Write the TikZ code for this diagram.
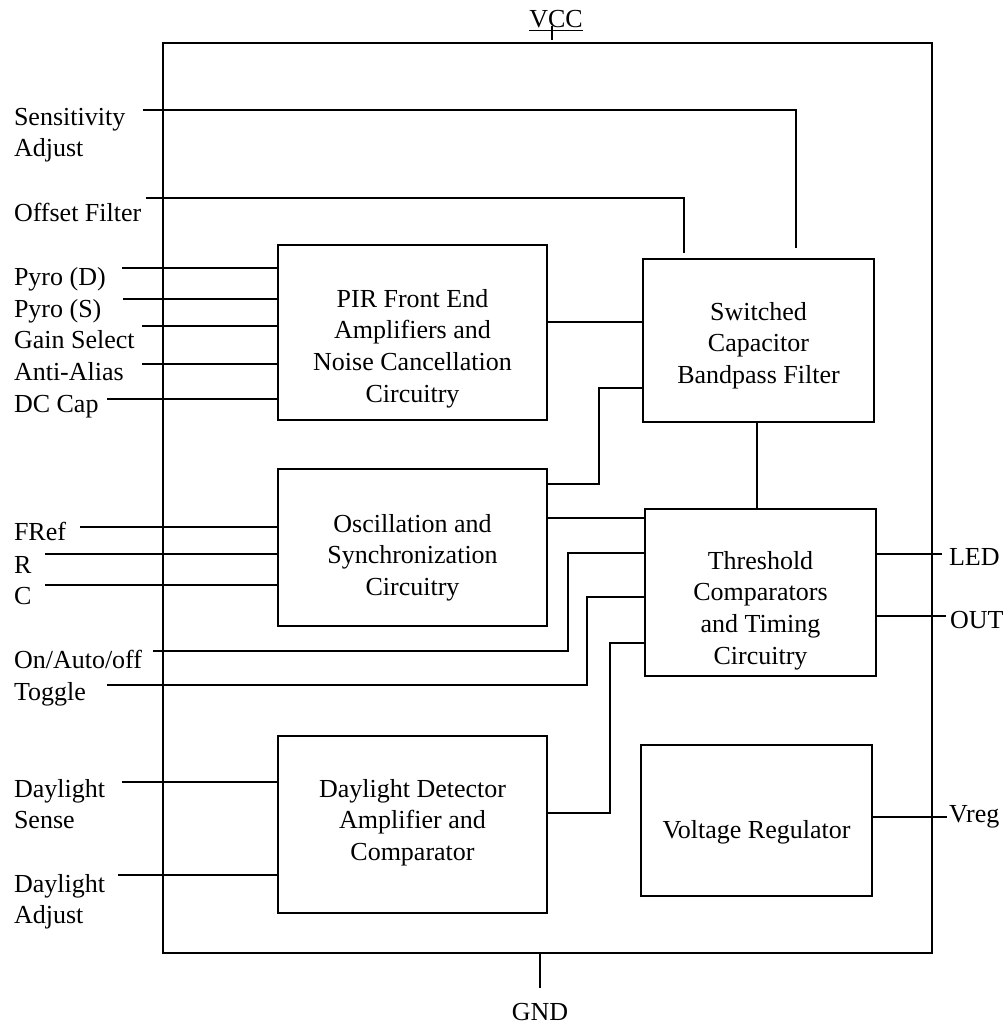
\documentclass[tikz,border=0pt]{standalone}
\usepackage{fontspec}
\setmainfont{Liberation Serif}
\newcommand{\ml}[2]{\begin{tabular}[t]{@{}#1@{}}#2\end{tabular}}
\begin{document}
\begin{tikzpicture}[x=1pt,y=-1pt,
  every node/.style={inner sep=0pt, outer sep=0pt, font=\fontsize{26}{31.7}\selectfont},
  blk/.style={draw, line width=1.4pt},
  wire/.style={line width=1.4pt},
  lbl/.style={anchor=base west},
  ctext/.style={anchor=base}]
\useasboundingbox (0,0) rectangle (1006,1025);

% outer chip
\node[blk, minimum width=769pt, minimum height=910pt] (chip) at (547.5,498) {};

% blocks
\node[blk, minimum width=269pt, minimum height=175pt] (pir) at (412.5,332.5) {};
\node[blk, minimum width=269pt, minimum height=157pt] (osc) at (412.5,547.5) {};
\node[blk, minimum width=269pt, minimum height=177pt] (day) at (412.5,824.5) {};
\node[blk, minimum width=231pt, minimum height=163pt] (scf) at (758.5,340.5) {};
\node[blk, minimum width=231pt, minimum height=167pt] (thr) at (760.5,592.5) {};
\node[blk, minimum width=231pt, minimum height=151pt] (vreg) at (756.5,820.5) {};

% block texts
\node[ctext] (pirT) at (412.5,307) {\ml{c}{PIR Front End\\Amplifiers and\\Noise Cancellation\\Circuitry}};
\node[ctext] (oscT) at (412.5,532) {\ml{c}{Oscillation and\\Synchronization\\Circuitry}};
\node[ctext] (dayT) at (412.5,797) {\ml{c}{Daylight Detector\\Amplifier and\\Comparator}};
\node[ctext] (scfT) at (758.5,320) {\ml{c}{Switched\\Capacitor\\Bandpass Filter}};
\node[ctext] (thrT) at (760.5,569) {\ml{c}{Threshold\\Comparators\\and Timing\\Circuitry}};
\node[ctext] (vregT) at (756.5,838) {Voltage Regulator};

% left labels
\node[lbl] (sens) at (14,125) {\ml{l}{Sensitivity\\Adjust}};
\node[lbl] (offs) at (14,221) {Offset Filter};
\node[lbl] (pyd) at (14,285) {Pyro (D)};
\node[lbl] (pys) at (14,317) {Pyro (S)};
\node[lbl] (gain) at (14,348) {Gain Select};
\node[lbl] (anti) at (14,380) {Anti-Alias};
\node[lbl] (dcc) at (14,412) {DC Cap};
\node[lbl] (fref) at (14,540) {FRef};
\node[lbl] (rr) at (14,573) {R};
\node[lbl] (cc) at (14,604) {C};
\node[lbl] (onl) at (14,668) {On/Auto/off};
\node[lbl] (tgl) at (14,700) {Toggle};
\node[lbl] (dsen) at (14,797) {\ml{l}{Daylight\\Sense}};
\node[lbl] (dadj) at (14,892) {\ml{l}{Daylight\\Adjust}};

% right labels
\node[lbl] (led) at (949,565) {LED};
\node[lbl] (out) at (950,628) {OUT};
\node[lbl] (vr) at (949,822) {Vreg};

% supply labels
\node[ctext] (vcc) at (556,28) {\underline{VCC}};
\node[ctext] (gnd) at (540,1020) {GND};

% coordinates
\coordinate (sensS) at (143,110);
\coordinate (sensE) at (796,248);
\coordinate (offS) at (146,198);
\coordinate (offE) at (684,253);
\coordinate (pdS) at (122,268);
\coordinate (psS) at (123,299);
\coordinate (gsS) at (142,326);
\coordinate (aaS) at (142,364);
\coordinate (dcS) at (107,399);
\coordinate (frS) at (80,527);
\coordinate (rS) at (45,554);
\coordinate (cS) at (45,585);
\coordinate (onS) at (153,651);
\coordinate (onK) at (568,553);
\coordinate (tgS) at (107,685);
\coordinate (tgK) at (587,597);
\coordinate (dsS) at (122,782);
\coordinate (daS) at (118,875);
\coordinate (ps) at (600,322);
\coordinate (os1) at (599,484);
\coordinate (os2) at (599,388);
\coordinate (ot) at (600,518);
\coordinate (dt1) at (610,813);
\coordinate (dt2) at (610,643);
\coordinate (stx) at (757,0);
\coordinate (ledE) at (942,554);
\coordinate (outE) at (946,616);
\coordinate (vrE) at (947,817);
\coordinate (vccA) at (552,26);
\coordinate (vccB) at (552,40);
\coordinate (gndT) at (540,988);

% wires
\draw[wire] (sensS) -| (sensE);
\draw[wire] (offS) -| (offE);
\draw[wire] (pdS) -- (pdS -| pir.west);
\draw[wire] (psS) -- (psS -| pir.west);
\draw[wire] (gsS) -- (gsS -| pir.west);
\draw[wire] (aaS) -- (aaS -| pir.west);
\draw[wire] (dcS) -- (dcS -| pir.west);
\draw[wire] (frS) -- (frS -| osc.west);
\draw[wire] (rS) -- (rS -| osc.west);
\draw[wire] (cS) -- (cS -| osc.west);
\draw[wire] (onS) -| (onK) -- (onK -| thr.west);
\draw[wire] (tgS) -| (tgK) -- (tgK -| thr.west);
\draw[wire] (dsS) -- (dsS -| day.west);
\draw[wire] (daS) -- (daS -| day.west);
\draw[wire] (ps -| pir.east) -- (ps -| scf.west);
\draw[wire] (os1 -| osc.east) -- (os1) -- (os2) -- (os2 -| scf.west);
\draw[wire] (ot -| osc.east) -- (ot -| thr.west);
\draw[wire] (dt1 -| day.east) -- (dt1) -- (dt2) -- (dt2 -| thr.west);
\draw[wire] (scf.south -| stx) -- (thr.north -| stx);
\draw[wire] (ledE -| thr.east) -- (ledE);
\draw[wire] (outE -| thr.east) -- (outE);
\draw[wire] (vrE -| vreg.east) -- (vrE);
\draw[wire] (vccA) -- (vccB);
\draw[wire] (gndT |- chip.south) -- (gndT);
\end{tikzpicture}
\end{document}
